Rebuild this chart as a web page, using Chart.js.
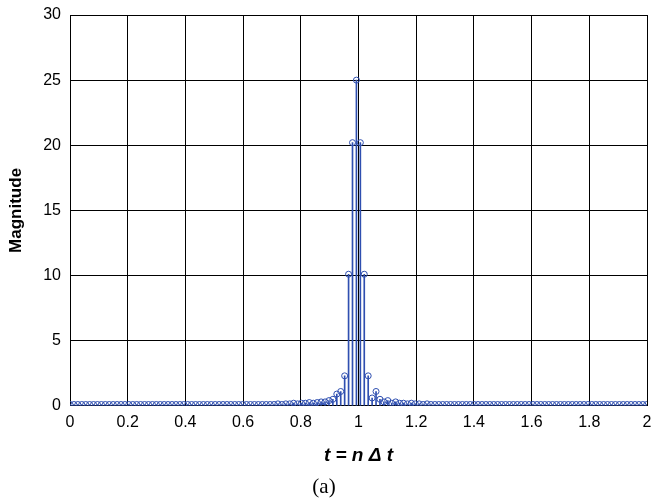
<!DOCTYPE html>
<html lang="en">
<head>
  <meta charset="UTF-8">
  <title>Magnitude</title>
  <script src="https://cdn.jsdelivr.net/npm/chart.js"></script>
  <style>
    html, body { margin: 0; padding: 0; background: #fff; }
    #wrap { width: 652px; height: 501px; }
  </style>
</head>
<body>
  <div id="wrap"><canvas id="stemChart" width="652" height="501"></canvas></div>

  <script>
    // sample spacing (t = n * dt)
    const dt = 0.0136;

    // magnitude of each sample n = 0..147
    const magnitude = [
      0.1, 0.1, 0.1, 0.1, 0.1, 0.1, 0.1, 0.1, 0.1, 0.1,
      0.1, 0.1, 0.1, 0.1, 0.1, 0.1, 0.1, 0.1, 0.1, 0.1,
      0.1, 0.1, 0.1, 0.1, 0.1, 0.1, 0.1, 0.1, 0.1, 0.1,
      0.1, 0.1, 0.1, 0.1, 0.1, 0.1, 0.1, 0.1, 0.1, 0.1,
      0.1, 0.1, 0.1, 0.1, 0.1, 0.1, 0.1, 0.1, 0.1, 0.1,
      0.1, 0.1, 0.1, 0.15, 0.1, 0.15, 0.15, 0.2, 0.15, 0.2,
      0.2, 0.25, 0.2, 0.25, 0.3, 0.3, 0.4, 0.5, 0.9, 1.1,
      2.3, 10.1, 20.2, 25.0, 20.2, 10.1, 2.3, 0.6, 1.1, 0.5,
      0.3, 0.4, 0.2, 0.3, 0.2, 0.2, 0.15, 0.2, 0.15, 0.15,
      0.1, 0.15, 0.1, 0.1, 0.1, 0.1, 0.1, 0.1, 0.1, 0.1,
      0.1, 0.1, 0.1, 0.1, 0.1, 0.1, 0.1, 0.1, 0.1, 0.1,
      0.1, 0.1, 0.1, 0.1, 0.1, 0.1, 0.1, 0.1, 0.1, 0.1,
      0.1, 0.1, 0.1, 0.1, 0.1, 0.1, 0.1, 0.1, 0.1, 0.1,
      0.1, 0.1, 0.1, 0.1, 0.1, 0.1, 0.1, 0.1, 0.1, 0.1,
      0.1, 0.1, 0.1, 0.1, 0.1, 0.1, 0.1, 0.1
    ];

    const xTicks = [0, 0.2, 0.4, 0.6, 0.8, 1, 1.2, 1.4, 1.6, 1.8, 2];
    const yTicks = [0, 5, 10, 15, 20, 25, 30];

    const points = magnitude.map((m, n) => ({ x: n * dt, y: m }));

    const blue = '#2f4fb0';

    new Chart(document.getElementById('stemChart'), {
      data: {
        datasets: [
          {
            // stems
            type: 'bar',
            data: points,
            backgroundColor: blue,
            borderWidth: 0,
            barThickness: 1,
            order: 2
          },
          {
            // markers
            type: 'line',
            data: points,
            showLine: false,
            pointStyle: 'circle',
            pointRadius: 3,
            pointBorderWidth: 1,
            pointBorderColor: blue,
            pointBackgroundColor: 'rgba(255,255,255,0)',
            order: 1
          }
        ]
      },
      options: {
        responsive: false,
        animation: false,
        layout: { padding: { top: 15, right: 4, bottom: 0, left: 0 } },
        plugins: {
          legend: { display: false },
          tooltip: { enabled: false },
          title: {
            display: true,
            position: 'bottom',
            text: '(a)',
            color: '#000',
            font: { family: '"Liberation Serif", serif', size: 21, weight: 'normal' },
            padding: { top: 2, bottom: 1 }
          }
        },
        scales: {
          x: {
            type: 'linear',
            min: 0,
            max: 2,
            offset: false,
            afterBuildTicks: axis => { axis.ticks = xTicks.map(v => ({ value: v })); },
            afterFit: axis => {
              axis.height = 67;
              axis.paddingLeft = 0;
              axis.paddingRight = 0;
            },
            grid: { color: '#000', lineWidth: 1, drawTicks: false, offset: false },
            border: { color: '#000', width: 1 },
            ticks: {
              color: '#000',
              padding: 7,
              maxRotation: 0,
              font: { family: '"Liberation Sans", Arial, sans-serif', size: 16 },
              callback: v => String(v)
            },
            title: {
              display: true,
              text: 't = n \u0394 t',
              color: '#000',
              font: { family: '"Liberation Sans", Arial, sans-serif', size: 19, weight: 'bold', style: 'italic' },
              padding: { top: 0, bottom: 6 }
            }
          },
          y: {
            min: 0,
            max: 30,
            afterBuildTicks: axis => { axis.ticks = yTicks.map(v => ({ value: v })); },
            afterFit: axis => {
              axis.width = 70;
              axis.paddingTop = 0;
              axis.paddingBottom = 0;
            },
            grid: { color: '#000', lineWidth: 1, drawTicks: false },
            border: { color: '#000', width: 1 },
            ticks: {
              color: '#000',
              padding: 9,
              font: { family: '"Liberation Sans", Arial, sans-serif', size: 16 }
            },
            title: {
              display: true,
              text: 'Magnitude',
              color: '#000',
              font: { family: '"Liberation Sans", Arial, sans-serif', size: 17, weight: 'bold' },
              padding: { top: 6, bottom: 6 }
            }
          }
        }
      }
    });
  </script>
</body>
</html>
